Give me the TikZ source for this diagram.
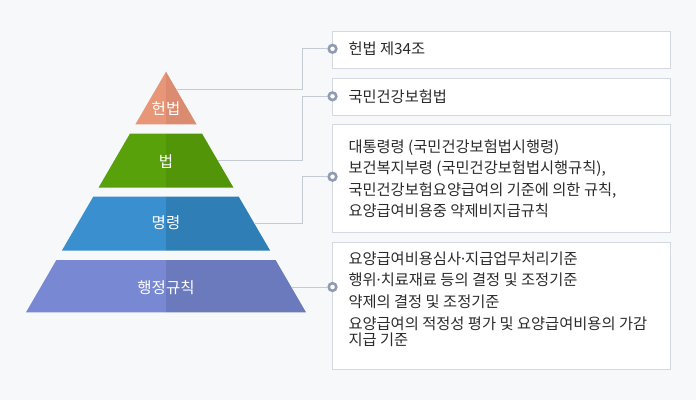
\documentclass[tikz,border=0pt]{standalone}
\usepackage{fontspec}
\newfontfamily\kr{Noto Sans CJK KR}
\newfontfamily\latinf{Noto Sans}
\newcommand{\mdot}{{\latinf ·}}
\definecolor{bgc}{HTML}{F7F8FA}
\definecolor{boxline}{HTML}{D4D9E1}
\definecolor{conn}{HTML}{C5CBD4}
\definecolor{dotc}{HTML}{8F9BB3}
\definecolor{txtc}{HTML}{2B2B2B}
\definecolor{aL}{HTML}{E89678}\definecolor{aR}{HTML}{DB8B70}
\definecolor{bL}{HTML}{58A10A}\definecolor{bR}{HTML}{529509}
\definecolor{cL}{HTML}{3A90CF}\definecolor{cR}{HTML}{2F7EB6}
\definecolor{dL}{HTML}{7888D3}\definecolor{dR}{HTML}{6A7ABC}
\tikzset{
  boxst/.style={draw=boxline, line width=0.8pt, fill=white, anchor=north west, inner sep=0pt},
  dotst/.style={circle, draw=dotc, line width=2.6pt, fill=white, minimum size=7.6pt, inner sep=0pt},
  connst/.style={draw=conn, line width=0.9pt},
  txt/.style={text=txtc, font=\kr\fontsize{15.3pt}{17pt}\selectfont, inner sep=0pt, anchor=base west},
  lbl/.style={text=white, font=\kr\fontsize{15.5pt}{17pt}\selectfont, inner sep=0pt}
}
\begin{document}
\begin{tikzpicture}[x=1pt,y=-1pt]
\useasboundingbox (0,0) rectangle (696,400);
\fill[bgc] (0,0) rectangle (696,400);
% pyramid tiers (left half lighter, right half darker)
\fill[aL] (166,71.7) -- (135.4,124.3) -- (166,124.3) -- cycle;
\fill[aR] (166,71.7) -- (196.6,124.3) -- (166,124.3) -- cycle;
\fill[bL] (129.9,133.7) -- (98.5,187.7) -- (166,187.7) -- (166,133.7) -- cycle;
\fill[bR] (202.1,133.7) -- (233.5,187.7) -- (166,187.7) -- (166,133.7) -- cycle;
\fill[cL] (93.25,196.7) -- (61.8,250.7) -- (166,250.7) -- (166,196.7) -- cycle;
\fill[cR] (238.75,196.7) -- (270.2,250.7) -- (166,250.7) -- (166,196.7) -- cycle;
\fill[dL] (56.4,260) -- (26,312.3) -- (166,312.3) -- (166,260) -- cycle;
\fill[dR] (275.6,260) -- (306,312.3) -- (166,312.3) -- (166,260) -- cycle;
% tier labels
\node[lbl] (p1) at (166,109) {헌법};
\node[lbl] (p2) at (166,161.7) {법};
\node[lbl] (p3) at (166,223) {명령};
\node[lbl] (p4) at (166,287.5) {행정규칙};
% edge points of the pyramid at label height
\coordinate (e1) at (176.2,89.3);
\coordinate (e2) at (217.8,160.7);
\coordinate (e3) at (254.2,223.3);
\coordinate (e4) at (291.7,287);
\coordinate (jx) at (302.5,0);
% boxes
\node[boxst, minimum width=337.7pt, minimum height=37.6pt] (b1) at (332.3,30.7) {};
\node[boxst, minimum width=337.7pt, minimum height=37.6pt] (b2) at (332.3,77.7) {};
\node[boxst, minimum width=337.7pt, minimum height=107.4pt] (b3) at (332.3,124.3) {};
\node[boxst, minimum width=337.7pt, minimum height=127.3pt] (b4) at (332.3,241.7) {};
% dots
\node[dotst] (c1) at (332.5,48.8) {};
\node[dotst] (c2) at (332.5,96.3) {};
\node[dotst] (c3) at (332.5,176.7) {};
\node[dotst] (c4) at (332.5,287) {};
% connectors
\draw[connst] (e1) -- (e1 -| jx) |- (c1.west);
\draw[connst] (e2) -- (e2 -| jx) |- (c2.west);
\draw[connst] (e3) -- (e3 -| jx) |- (c3.west);
\draw[connst] (e4) -- (c4.west);
% texts
\node[txt] (t1) at (348.3,54.8) {헌법 제34조};
\node[txt] (t2) at (348.3,102.5) {국민건강보험법};
\node[txt] (t3a) at (348.3,152) {대통령령 (국민건강보험법시행령)};
\node[txt] (t3b) at (348.3,173.5) {보건복지부령 (국민건강보험법시행규칙),};
\node[txt] (t3c) at (348.3,195) {국민건강보험요양급여의 기준에 의한 규칙,};
\node[txt] (t3d) at (348.3,216.5) {요양급여비용중 약제비지급규칙};
\node[txt] (t4a) at (348.3,264) {요양급여비용심사\mdot 지급업무처리기준};
\node[txt] (t4b) at (348.3,285.7) {행위\mdot 치료재료 등의 결정 및 조정기준};
\node[txt] (t4c) at (348.3,307.4) {약제의 결정 및 조정기준};
\node[txt] (t4d) at (348.3,329.1) {요양급여의 적정성 평가 및 요양급여비용의 가감};
\node[txt] (t4e) at (348.3,345.8) {지급 기준};
\end{tikzpicture}
\end{document}
